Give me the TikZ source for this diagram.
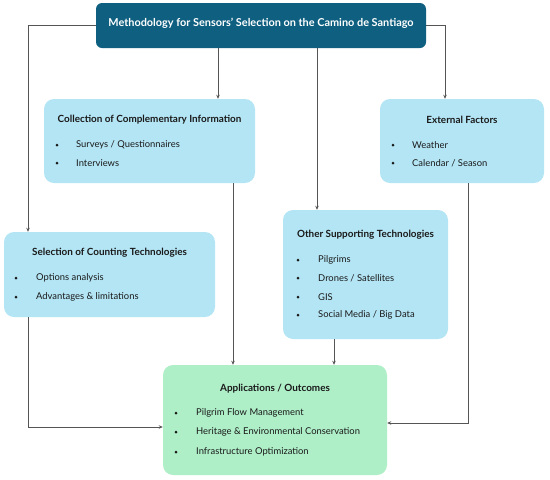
\documentclass[tikz,border=0pt]{standalone}
\usepackage{fontspec}
\setmainfont{Lato}
\usetikzlibrary{arrows.meta}
\definecolor{topc}{HTML}{0E5F80}
\definecolor{lblue}{HTML}{B3E5F5}
\definecolor{lgreen}{HTML}{AEEFC8}
\definecolor{linec}{HTML}{555555}
\definecolor{txt}{HTML}{1A1A1A}
\tikzset{
  box/.style={fill=lblue, draw=none, rounded corners=10pt, inner sep=0pt},
  gbox/.style={fill=lgreen, draw=none, rounded corners=10pt, inner sep=0pt},
  ttl/.style={font=\bfseries\fontsize{9.9}{11}\selectfont, text=txt, inner sep=0pt},
  itm/.style={font=\fontsize{9.4}{11}\selectfont, text=txt, anchor=west, inner sep=0pt},
  bul/.style={circle, fill=txt, inner sep=0pt, minimum size=3pt},
  conn/.style={draw=linec, line width=0.9pt},
  arr/.style={conn, -{Stealth[length=4pt,width=3.5pt]}},
}
\begin{document}
\begin{tikzpicture}[x=1pt,y=-1pt]
\useasboundingbox (0,0) rectangle (550,480);
% top
\node[fill=topc, rounded corners=6pt, minimum width=330pt, minimum height=45pt, inner sep=0pt] (top) at (261,25.5) {};
\node[font=\bfseries\fontsize{10.9}{12}\selectfont, text=white, inner sep=0pt] (toptxt) at (261,23) {Methodology for Sensors' Selection on the Camino de Santiago};
% collection
\node[box, minimum width=211pt, minimum height=84pt] (coll) at (149.5,141) {};
\node[ttl] (collt) at (149.5,120) {Collection of Complementary Information};
\node[bul] (cb1) at (57,145) {}; \node[itm] (ci1) at (76,145) {Surveys / Questionnaires};
\node[bul] (cb2) at (57,163) {}; \node[itm] (ci2) at (76,163) {Interviews};
% external
\node[box, minimum width=164pt, minimum height=84pt] (ext) at (462,141) {};
\node[ttl] (extt) at (462,120) {External Factors};
\node[bul] (eb1) at (393,145) {}; \node[itm] (ei1) at (412,145) {Weather};
\node[bul] (eb2) at (393,163) {}; \node[itm] (ei2) at (412,163) {Calendar / Season};
% selection
\node[box, minimum width=211pt, minimum height=85pt] (sel) at (109.5,274.5) {};
\node[ttl] (selt) at (109.5,253) {Selection of Counting Technologies};
\node[bul] (sb1) at (16,278) {}; \node[itm] (si1) at (36,278) {Options analysis};
\node[bul] (sb2) at (16,297) {}; \node[itm] (si2) at (36,297) {Advantages \& limitations};
% other
\node[box, minimum width=165pt, minimum height=129pt] (oth) at (365.5,274.5) {};
\node[ttl] (otht) at (365.5,235) {Other Supporting Technologies};
\node[bul] (ob1) at (298,260) {}; \node[itm] (oi1) at (318,260) {Pilgrims};
\node[bul] (ob2) at (298,278) {}; \node[itm] (oi2) at (318,278) {Drones / Satellites};
\node[bul] (ob3) at (298,297) {}; \node[itm] (oi3) at (318,297) {GIS};
\node[bul] (ob4) at (298,315) {}; \node[itm] (oi4) at (318,315) {Social Media / Big Data};
% applications
\node[gbox, minimum width=224pt, minimum height=110pt] (app) at (275,420) {};
\node[ttl] (appt) at (275,389) {Applications / Outcomes};
\node[bul] (ab1) at (176,413) {}; \node[itm] (ai1) at (196,413) {Pilgrim Flow Management};
\node[bul] (ab2) at (176,432) {}; \node[itm] (ai2) at (196,432) {Heritage \& Environmental Conservation};
\node[bul] (ab3) at (176,452) {}; \node[itm] (ai3) at (196,452) {Infrastructure Optimization};
% connectors
\draw[arr] (top.west |- 0,25) -| (sel.north -| 28,0);
\draw[arr] (top.east |- 0,25) -| (ext.north -| 445,0);
\draw[arr] (top.south -| 218,0) -- (coll.north -| 218,0);
\draw[arr] (top.south -| 317,0) -- (oth.north -| 317,0);
\draw[arr] (coll.south -| 233,0) -- (app.north -| 233,0);
\draw[arr] (oth.south -| 334,0) -- (app.north -| 334,0);
\draw[arr] (sel.south -| 28,0) |- (app.west |- 0,427);
\draw[arr] (ext.south -| 468,0) |- (app.east |- 0,423);
\end{tikzpicture}
\end{document}
